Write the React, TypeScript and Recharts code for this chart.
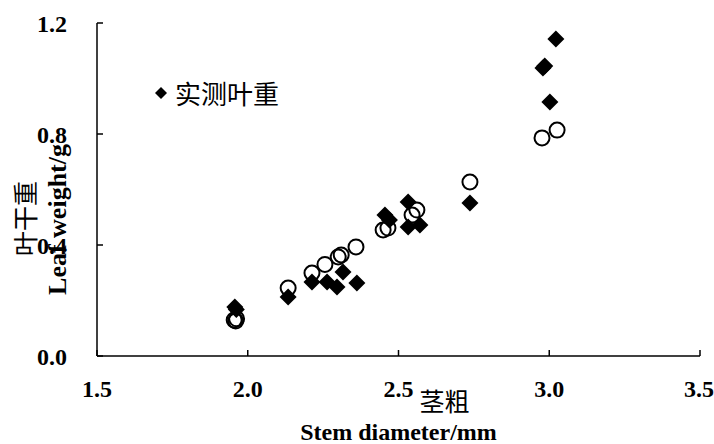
import { ScatterChart, Scatter, XAxis, YAxis, Label } from 'recharts';

// 实测叶重 (diamonds)
const measuredX = [1.957, 1.962, 2.134, 2.213, 2.263, 2.296, 2.316, 2.362, 2.455, 2.47, 2.532, 2.532, 2.571, 2.737, 2.979, 2.985, 3.002, 3.022];
const measuredY = [0.177, 0.168, 0.213, 0.267, 0.267, 0.249, 0.303, 0.263, 0.508, 0.49, 0.555, 0.465, 0.472, 0.551, 1.038, 1.045, 0.915, 1.142];

// 预测叶重 (open circles)
const predictedX = [1.955, 1.96, 1.963, 2.134, 2.213, 2.256, 2.3, 2.31, 2.359, 2.449, 2.465, 2.545, 2.561, 2.737, 2.976, 3.026];
const predictedY = [0.13, 0.126, 0.134, 0.245, 0.299, 0.33, 0.357, 0.364, 0.393, 0.454, 0.461, 0.508, 0.526, 0.627, 0.786, 0.814];

const xTicks = [1.5, 2.0, 2.5, 3.0, 3.5];
const yTicks = [0, 0.4, 0.8, 1.2];

const legendLabel = '实测叶重';
const xTitleZh = '茎粗';
const xTitleEn = 'Stem diameter/mm';
const yTitleZh = '叶干重';
const yTitleEn = 'Leaf weight/g';

const measured = measuredX.map((x, i) => ({ x, y: measuredY[i] }));
const predicted = predictedX.map((x, i) => ({ x, y: predictedY[i] }));

const SERIF = '"Liberation Serif", "Times New Roman", serif';
const CJK = '"Noto Sans CJK SC", sans-serif';

const tickStyle = { fill: '#000', fontFamily: SERIF, fontWeight: 700, fontSize: 24 };

const Diamond = (props: any) => {
  const { cx, cy } = props;
  const r = 8.5;
  return (
    <path
      d={`M${cx},${cy - r}L${cx + r},${cy}L${cx},${cy + r}L${cx - r},${cy}Z`}
      fill="#000"
    />
  );
};

const OpenCircle = (props: any) => {
  const { cx, cy } = props;
  return <circle cx={cx} cy={cy} r={7.5} fill="none" stroke="#000" strokeWidth={2} />;
};

const XTitle = (props: any) => {
  const { x, y, width } = props.viewBox;
  return (
    <g>
      <text x={x + width / 2 + 46} y={y + 44} textAnchor="middle" dominantBaseline="central"
        style={{ fontFamily: CJK, fontSize: 25, fill: '#000' }}>
        {xTitleZh}
      </text>
      <text x={x + width / 2} y={y + 76} textAnchor="middle" dominantBaseline="central"
        style={{ fontFamily: SERIF, fontWeight: 700, fontSize: 24, fill: '#000' }}>
        {xTitleEn}
      </text>
    </g>
  );
};

const YTitle = (props: any) => {
  const { x, y, height } = props.viewBox;
  const cy = y + height / 2;
  return (
    <g>
      <text x={x + 24} y={cy + 29} textAnchor="middle" dominantBaseline="central"
        transform={`rotate(-90, ${x + 24}, ${cy + 29})`}
        style={{ fontFamily: CJK, fontSize: 25, fill: '#000' }}>
        {yTitleZh}
      </text>
      <text x={x + 57} y={cy + 30} textAnchor="middle" dominantBaseline="central"
        transform={`rotate(-90, ${x + 57}, ${cy + 30})`}
        style={{ fontFamily: SERIF, fontWeight: 700, fontSize: 26, fill: '#000' }}>
        {yTitleEn}
      </text>
    </g>
  );
};

export default function App() {
  return (
    <div style={{ position: 'absolute', left: 0, top: 0, width: 714, height: 444, background: '#fff' }}>
      <ScatterChart width={714} height={444} margin={{ top: 23, right: 14, bottom: 58, left: 0 }}>
        <XAxis
          type="number"
          dataKey="x"
          domain={[1.5, 3.5]}
          ticks={xTicks}
          height={30}
          tickFormatter={(v: number) => v.toFixed(1)}
          tick={tickStyle}
          tickSize={-6}
          tickMargin={30}
          axisLine={{ stroke: '#000', strokeWidth: 1.5 }}
          tickLine={{ stroke: '#000', strokeWidth: 1.5 }}
        >
          <Label content={XTitle} />
        </XAxis>
        <YAxis
          type="number"
          dataKey="y"
          domain={[0, 1.2]}
          ticks={yTicks}
          width={97}
          tickFormatter={(v: number) => v.toFixed(1)}
          tick={tickStyle}
          tickSize={-6}
          tickMargin={36}
          axisLine={{ stroke: '#000', strokeWidth: 1.5 }}
          tickLine={{ stroke: '#000', strokeWidth: 1.5 }}
        >
          <Label content={YTitle} />
        </YAxis>
        <Scatter data={predicted} shape={OpenCircle} isAnimationActive={false} />
        <Scatter data={measured} shape={Diamond} isAnimationActive={false} />
      </ScatterChart>
      <div style={{ position: 'absolute', left: 152, top: 78, display: 'flex', alignItems: 'center' }}>
        <svg width={18} height={18} style={{ marginRight: 5 }}>
          <path d="M9,3L15,9L9,15L3,9Z" fill="#000" />
        </svg>
        <span style={{ fontFamily: CJK, fontSize: 26, lineHeight: '30px', color: '#000' }}>{legendLabel}</span>
      </div>
    </div>
  );
}
